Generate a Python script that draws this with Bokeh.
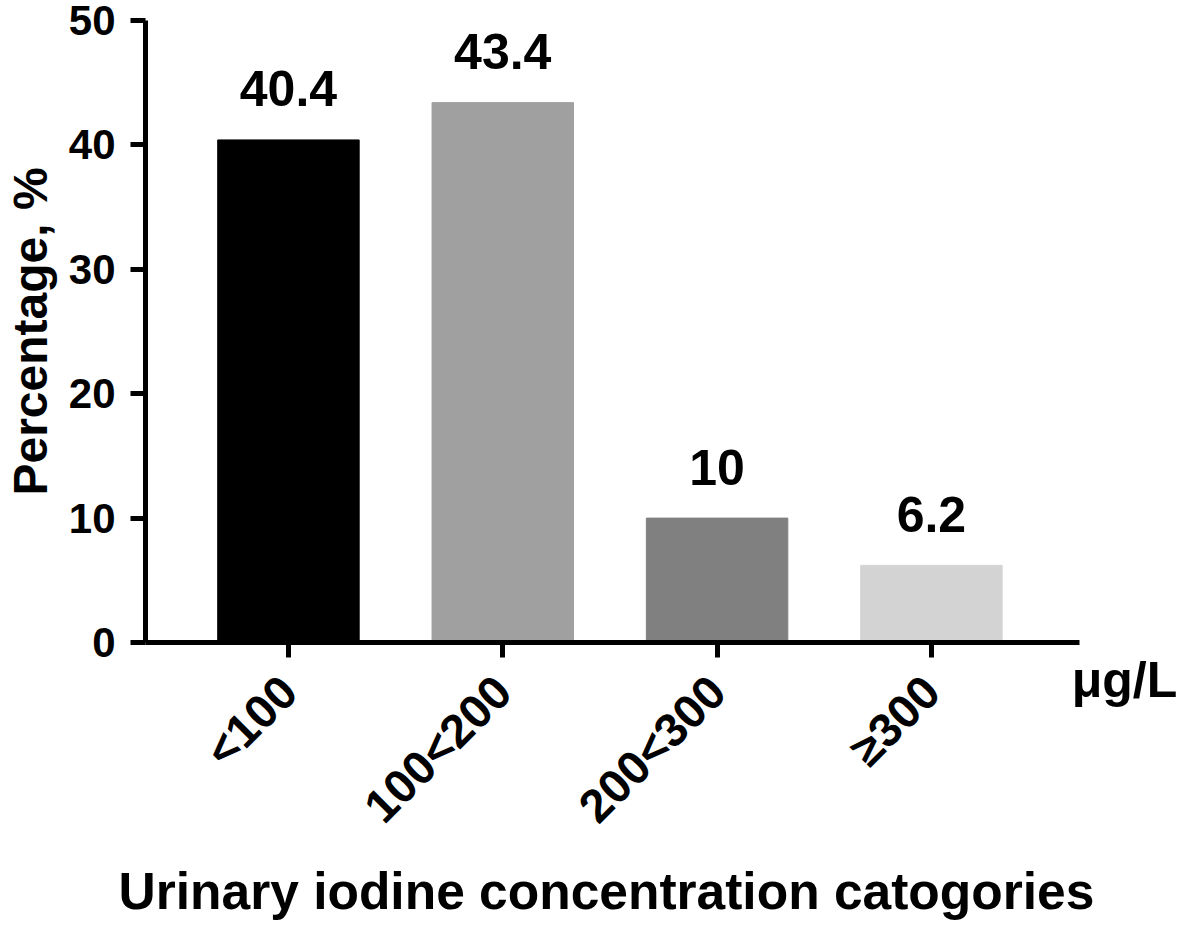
import math
from bokeh.plotting import figure
from bokeh.models import Range1d, FixedTicker, Title, LinearAxis, ColumnDataSource
from bokeh.core.properties import value
from bokeh.embed import file_html
from bokeh.resources import INLINE

# ---- data ----
categories = ["<100", "100<200", "200<300", "\u2265300"]
percentages = [40.4, 43.4, 10.0, 6.2]
bar_colors = ["#000000", "#a0a0a0", "#808080", "#d3d3d3"]
y_ticks = [0, 10, 20, 30, 40, 50]
x_unit = "\u03bcg/L"
x_title = "Urinary iodine concentration catogories"
y_title = "Percentage, %"

FONT = "Liberation Sans"

xs = list(range(1, len(categories) + 1))
src = ColumnDataSource(dict(
    x=xs,
    top=percentages,
    color=bar_colors,
    label=[f"{v:g}" for v in percentages],
))

p = figure(
    width=1181, height=928,
    x_range=Range1d(0.333, 4.901), y_range=Range1d(0, 50),
    output_backend="svg", toolbar_location=None,
    min_border_left=145, min_border_right=57,
    min_border_top=20, min_border_bottom=286,
)
p.outline_line_color = None
p.xgrid.visible = False
p.ygrid.visible = False
p.background_fill_color = "white"
p.border_fill_color = "white"

p.vbar(x="x", top="top", bottom=0, width=0.66, fill_color="color",
       line_color="color", source=src)

p.text(x="x", y="top", text="label", source=src,
       text_align="center", text_baseline="alphabetic",
       y_offset=-51, text_font=value(FONT), text_font_style="bold",
       text_font_size="50px", text_color="black")

for ax in (p.xaxis[0], p.yaxis[0]):
    ax.axis_line_width = 5
    ax.axis_line_color = "black"
    ax.major_tick_line_width = 5
    ax.major_tick_line_color = "black"
    ax.major_tick_out = 15
    ax.major_tick_in = 0
    ax.minor_tick_line_color = None
    ax.major_label_text_font = FONT
    ax.major_label_text_font_style = "bold"
    ax.major_label_text_color = "black"
    ax.axis_label_text_font = FONT
    ax.axis_label_text_font_style = "bold"
    ax.axis_label_text_color = "black"

xa = p.xaxis[0]
xa.bounds = (0.333, 4.69)
xa.ticker = FixedTicker(ticks=xs)
xa.major_label_overrides = {x: c for x, c in zip(xs, categories)}
xa.major_label_orientation = math.pi / 4
xa.major_label_text_font_size = "47px"
xa.major_label_standoff = 26
# unit label at the right end of the x axis
xa.axis_label = x_unit
xa.axis_label_align = "end"
xa.axis_label_text_font_size = "50px"
xa.axis_label_standoff = -202

ya = p.yaxis[0]
ya.bounds = (0, 50)
ya.ticker = FixedTicker(ticks=y_ticks)
ya.major_label_text_font_size = "42px"
ya.major_label_standoff = 15
ya.axis_label = y_title
ya.axis_label_text_font_size = "48px"
ya.axis_label_standoff = 9

# invisible spacer axis (white tick on white, in an empty spot) to push the x title down
spacer = LinearAxis(ticker=FixedTicker(ticks=[4.85]), axis_line_color=None,
                    major_tick_line_color="white", major_tick_line_width=1,
                    minor_tick_line_color=None,
                    major_tick_in=0, major_tick_out=147,
                    major_label_standoff=0,
                    major_label_overrides={4.85: ""},
                    major_label_text_font_size="1px",
                    major_label_text_color="white")
p.add_layout(spacer, "below")

p.add_layout(Title(text=x_title, align="left", offset=-27, standoff=2,
                   vertical_align="bottom",
                   text_font=FONT, text_font_style="bold",
                   text_font_size="51.5px", text_color="black"), "below")

open("out.html", "w").write(file_html(p, INLINE))
